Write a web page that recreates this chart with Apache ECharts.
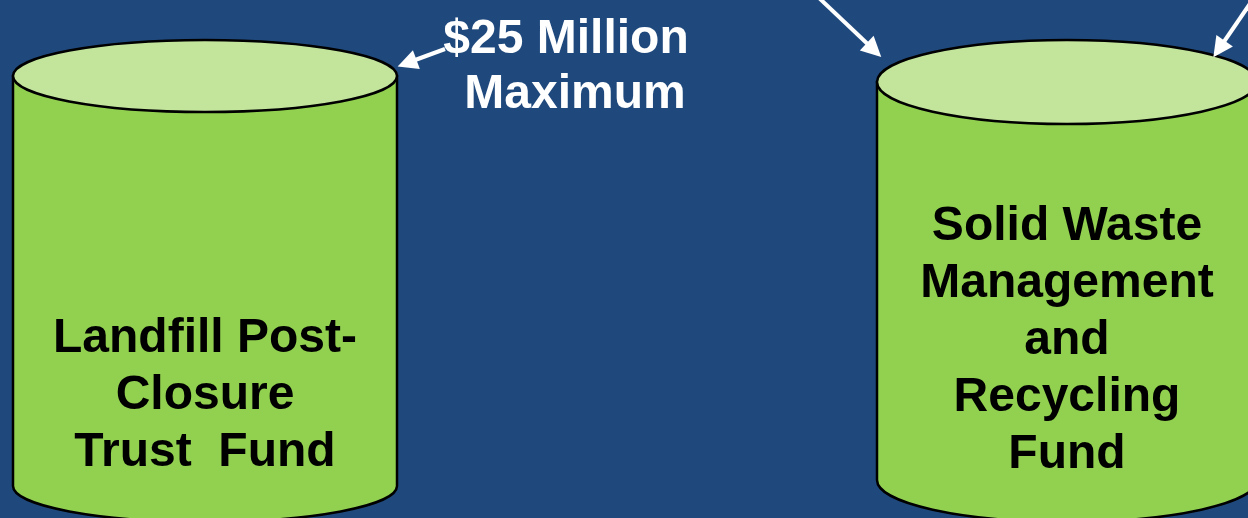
<!DOCTYPE html>
<html>
<head>
<meta charset="utf-8">
<script src="https://cdn.jsdelivr.net/npm/echarts@6/dist/echarts.min.js"></script>
<style>
  html, body { margin: 0; padding: 0; background: #1F497D; }
  #main { width: 1248px; height: 518px; }
</style>
</head>
<body>
<div id="main"></div>
<script>
// funds (drawn as cylinders), in slide units of the hidden axes
const fundNames = ['Landfill Post-\nClosure\nTrust  Fund', 'Solid Waste\nManagement\nand\nRecycling\nFund'];
const fundCenterX = [205, 1067];
const fundTopY = [76, 82];
const fundBaseY = [486, 480];
const fundRadiusX = [192, 190];
const fundRadiusY = [36, 42];
const fundLabelY = [396, 341];

// callout, one entry per line
const noteText = ['$25 Million', 'Maximum'];
const noteX = [566, 575];
const noteY = [40, 95];

// arrows (end = where the head sits)
const arrowFrom = [[445, 49], [798, -22], [1258, -8]];
const arrowTo = [[407, 63], [874, 50], [1219, 49]];

const FONT = 'bold 48px "Liberation Sans", Arial, sans-serif';

const fundData = fundNames.map(function (n, i) {
    return [fundCenterX[i], fundTopY[i], fundBaseY[i], fundRadiusX[i], fundRadiusY[i], fundLabelY[i]];
});
const noteData = noteText.map(function (t, i) {
    return [noteX[i], noteY[i]];
});

function renderFund(params, api) {
    const top = api.coord([api.value(0), api.value(1)]);
    const base = api.coord([api.value(0), api.value(2)]);
    const r = api.size([api.value(3), api.value(4)]);
    const lab = api.coord([api.value(0), api.value(5)]);
    const rx = r[0], ry = r[1];
    const x0 = top[0] - rx, x1 = top[0] + rx;
    const body = 'M' + x0 + ' ' + top[1] +
        ' L' + x0 + ' ' + base[1] +
        ' A' + rx + ' ' + ry + ' 0 0 0 ' + x1 + ' ' + base[1] +
        ' L' + x1 + ' ' + top[1] + ' Z';
    return {
        type: 'group',
        children: [
            {
                type: 'path',
                shape: { pathData: body },
                style: { fill: '#92D050', stroke: '#000', lineWidth: 2.5 }
            },
            {
                type: 'ellipse',
                shape: { cx: top[0], cy: top[1], rx: rx, ry: ry },
                style: { fill: '#C2E49B', stroke: '#000', lineWidth: 2.5 }
            },
            {
                type: 'text',
                style: {
                    text: fundNames[params.dataIndex],
                    x: lab[0], y: lab[1],
                    fill: '#000', font: FONT,
                    align: 'center', verticalAlign: 'middle',
                    lineHeight: 57
                }
            }
        ]
    };
}

function renderNote(params, api) {
    const p = api.coord([api.value(0), api.value(1)]);
    return {
        type: 'text',
        style: {
            text: noteText[params.dataIndex],
            x: p[0], y: p[1],
            fill: '#fff', font: FONT,
            align: 'center', verticalAlign: 'middle'
        }
    };
}

const chart = echarts.init(document.getElementById('main'));
chart.setOption({
    backgroundColor: '#1F497D',
    animation: false,
    grid: { left: 0, right: 0, top: 0, bottom: 0 },
    xAxis: { type: 'value', min: 0, max: 1248, show: false },
    yAxis: { type: 'value', min: 0, max: 518, inverse: true, show: false },
    series: [
        {
            type: 'custom',
            renderItem: renderFund,
            data: fundData,
            clip: false
        },
        {
            type: 'custom',
            renderItem: renderNote,
            data: noteData,
            clip: false
        },
        {
            type: 'lines',
            coordinateSystem: 'cartesian2d',
            symbol: ['none', 'triangle'],
            symbolSize: [20, 20],
            lineStyle: { color: '#fff', width: 4, opacity: 1 },
            data: arrowFrom.map(function (p, i) {
                return { coords: [p, arrowTo[i]] };
            })
        }
    ]
});
</script>
</body>
</html>
